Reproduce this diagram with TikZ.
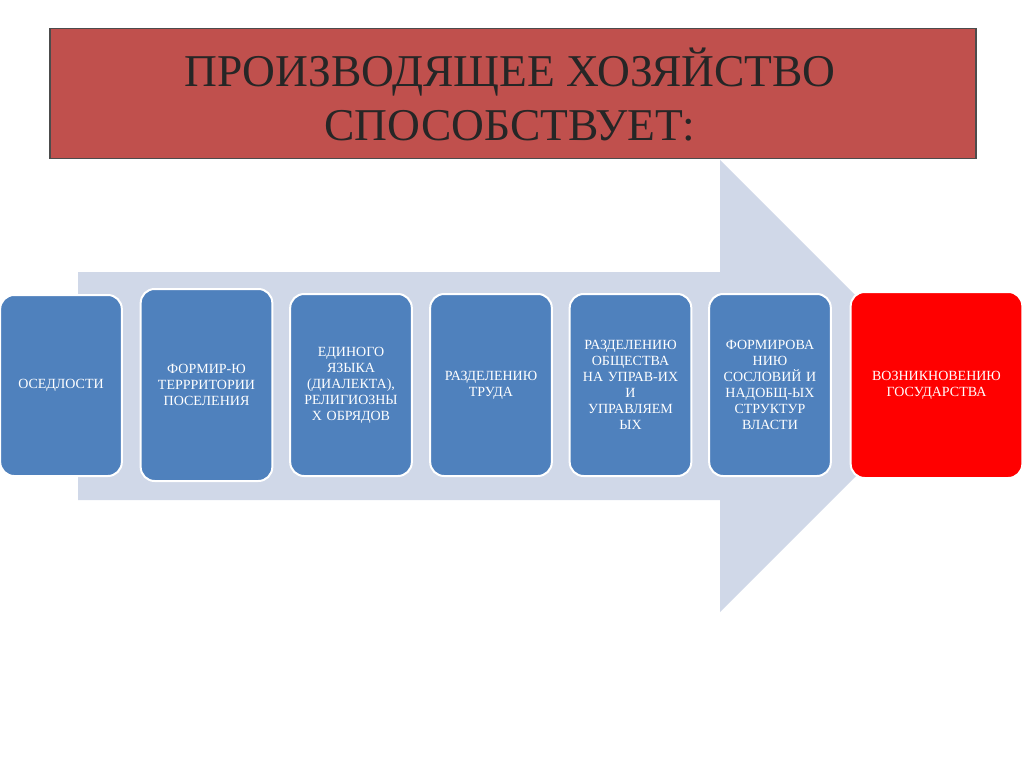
\documentclass[tikz,border=0pt]{standalone}
\usepackage{fontspec}
\setmainfont{Liberation Serif}
\definecolor{arrowc}{HTML}{D0D8E8}
\definecolor{boxc}{HTML}{4F81BD}
\definecolor{titlec}{HTML}{C0504D}
\tikzset{
 stagebox/.style={draw=white,line width=2pt,fill=boxc,rounded corners=14pt,text=white,font=\fontsize{14}{16}\selectfont,align=center,text width=#1},
 stagebox/.default=115pt
}
\begin{document}
\begin{tikzpicture}[x=1pt,y=-1pt]
\useasboundingbox[fill=white] (0,0) rectangle (1024,767);
\fill[arrowc] (78,272) -- (720,272) -- (720,160) -- (946,386) -- (720,612) -- (720,500) -- (78,500) -- cycle;
\node[draw=black!70,line width=1.5pt,fill=titlec,minimum width=926pt,minimum height=130pt,anchor=north west,inner sep=0pt] (title) at (49,28) {};
\node[font=\fontsize{45.5}{54}\selectfont,align=center,text=black!85] (tt) at (510,95) {ПРОИЗВОДЯЩЕЕ ХОЗЯЙСТВО\\СПОСОБСТВУЕТ:};
\node[stagebox=115pt,minimum width=118pt,minimum height=181pt] (b1) at (61,385.5) {ОСЕДЛОСТИ};
\node[stagebox=125pt,minimum width=131pt,minimum height=192pt] (b2) at (206.5,385) {ФОРМИР-Ю\\ТЕРРРИТОРИИ\\ПОСЕЛЕНИЯ};
\node[stagebox=115pt,minimum width=118pt,minimum height=182pt] (b3) at (351,385) {ЕДИНОГО\\ЯЗЫКА\\(ДИАЛЕКТА),\\РЕЛИГИОЗНЫ\\Х ОБРЯДОВ};
\node[stagebox=115pt,minimum width=118pt,minimum height=182pt] (b4) at (491,385) {РАЗДЕЛЕНИЮ\\ТРУДА};
\node[stagebox=115pt,minimum width=119pt,minimum height=182pt] (b5) at (630.5,385) {РАЗДЕЛЕНИЮ\\ОБЩЕСТВА\\НА УПРАВ-ИХ\\И\\УПРАВЛЯЕМ\\ЫХ};
\node[stagebox=115pt,minimum width=118pt,minimum height=182pt] (b6) at (770,385) {ФОРМИРОВА\\НИЮ\\СОСЛОВИЙ И\\НАДОБЩ-ЫХ\\СТРУКТУР\\ВЛАСТИ};
\node[stagebox=165pt,fill=red,minimum width=171pt,minimum height=186pt] (b7) at (936.5,385) {ВОЗНИКНОВЕНИЮ\\ГОСУДАРСТВА};
\end{tikzpicture}
\end{document}
